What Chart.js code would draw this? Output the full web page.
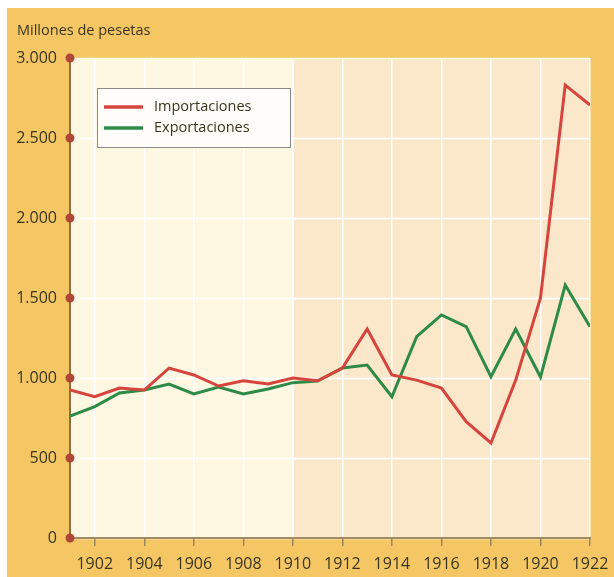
<!DOCTYPE html>
<html>
<head>
<meta charset="utf-8">
<script src="https://cdn.jsdelivr.net/npm/chart.js@4"></script>
<style>
  html, body { margin: 0; padding: 0; background: #ffffff; }
  canvas { display: block; }
</style>
</head>
<body>
<canvas id="chart" width="614" height="577"></canvas>
<script>
// Comercio exterior de España, 1901-1922 (millones de pesetas)
const years = [1901, 1902, 1903, 1904, 1905, 1906, 1907, 1908, 1909, 1910, 1911,
               1912, 1913, 1914, 1915, 1916, 1917, 1918, 1919, 1920, 1921, 1922];
const importaciones = [925, 883, 937, 925, 1062, 1019, 950, 983, 962, 1000, 983,
                       1062, 1306, 1019, 987, 937, 727, 594, 987, 1500, 2831, 2706];
const exportaciones = [762, 821, 906, 925, 962, 900, 944, 900, 931, 971, 981,
                       1062, 1081, 883, 1258, 1394, 1321, 1008, 1306, 1006, 1581, 1321];
const xTickYears = [1902, 1904, 1906, 1908, 1910, 1912, 1914, 1916, 1918, 1920, 1922];
const yTickValues = [0, 500, 1000, 1500, 2000, 2500, 3000];
const yTickLabels = ['0', '500', '1.000', '1.500', '2.000', '2.500', '3.000'];
const seriesNames = ['Importaciones', 'Exportaciones'];
const axisTitle = 'Millones de pesetas';

const X_MIN = 1901, X_MAX = 1922, Y_MIN = 0, Y_MAX = 3000;

const RED = '#d6443e';
const GREEN = '#2e8a47';
const GOLD = '#f4c764';
const TEXT = '#3a3520';
const FONT = "'Open Sans', sans-serif";

Chart.defaults.font.family = FONT;

// plot rectangle: horizontal extent from the first and last drawn points,
// vertical extent from the y scale
function plotRect(chart) {
  const pts = chart.getDatasetMeta(0).data;
  const y = chart.scales.y;
  return {
    left: pts[0].x,
    right: pts[pts.length - 1].x,
    top: y.getPixelForValue(Y_MAX),
    bottom: y.getPixelForValue(Y_MIN)
  };
}

const backdrop = {
  id: 'backdrop',
  beforeDraw(chart) {
    const { ctx } = chart;
    const r = plotRect(chart);
    ctx.save();
    ctx.fillStyle = '#ffffff';
    ctx.fillRect(0, 0, chart.width, chart.height);
    ctx.fillStyle = GOLD;
    ctx.fillRect(7, 8, chart.width - 7, chart.height - 8);
    const split = 294;
    ctx.fillStyle = '#fef7e1';
    ctx.fillRect(r.left, r.top, split - r.left, r.bottom - r.top);
    ctx.fillStyle = '#fbe8cb';
    ctx.fillRect(split, r.top, r.right - split, r.bottom - r.top);
    // horizontal white grid lines
    ctx.strokeStyle = '#ffffff';
    ctx.lineWidth = 1.5;
    yTickValues.forEach(v => {
      const py = Math.round(chart.scales.y.getPixelForValue(v)) + 0.5;
      ctx.beginPath();
      ctx.moveTo(r.left, py);
      ctx.lineTo(r.right, py);
      ctx.stroke();
    });
    ctx.restore();
  }
};

const decorations = {
  id: 'decorations',
  afterDraw(chart) {
    const { ctx, scales } = chart;
    const y = scales.y;
    const r = plotRect(chart);
    ctx.save();
    // gold margin to the right of the plot
    ctx.fillStyle = GOLD;
    ctx.fillRect(r.right + 1.5, 8, chart.width - r.right, r.bottom - 8 + 1);

    // x axis line
    ctx.strokeStyle = '#a08b63';
    ctx.lineWidth = 2;
    ctx.beginPath();
    ctx.moveTo(r.left, r.bottom);
    ctx.lineTo(r.right + 1, r.bottom);
    ctx.stroke();

    // axis title
    ctx.fillStyle = TEXT;
    ctx.font = `14.5px ${FONT}`;
    ctx.textBaseline = 'middle';
    ctx.textAlign = 'left';
    ctx.fillText(axisTitle, 17, 31);

    // dots on the y axis
    ctx.fillStyle = '#b04838';
    yTickValues.forEach(v => {
      ctx.beginPath();
      ctx.arc(r.left, y.getPixelForValue(v), 4.5, 0, Math.PI * 2);
      ctx.fill();
    });

    // legend box
    const bx = 97.5, by = 88.5, bw = 193, bh = 59;
    ctx.fillStyle = '#fffdf9';
    ctx.fillRect(bx, by, bw, bh);
    ctx.strokeStyle = '#8a8a8a';
    ctx.lineWidth = 1;
    ctx.strokeRect(bx, by, bw, bh);
    ctx.font = `14.5px ${FONT}`;
    chart.data.datasets.forEach((ds, i) => {
      const ly = 107 + i * 21;
      ctx.strokeStyle = ds.borderColor;
      ctx.lineWidth = 3.5;
      ctx.beginPath();
      ctx.moveTo(104, ly);
      ctx.lineTo(143, ly);
      ctx.stroke();
      ctx.fillStyle = TEXT;
      ctx.fillText(ds.label, 154, ly);
    });
    ctx.restore();
  }
};

const toPoints = vals => years.map((yr, i) => ({ x: yr, y: vals[i] }));

new Chart(document.getElementById('chart'), {
  type: 'line',
  data: {
    datasets: [
      { label: seriesNames[0], data: toPoints(importaciones), borderColor: RED,
        borderWidth: 3, pointRadius: 0, tension: 0, fill: false },
      { label: seriesNames[1], data: toPoints(exportaciones), borderColor: GREEN,
        borderWidth: 3, pointRadius: 0, tension: 0, fill: false }
    ]
  },
  options: {
    responsive: false,
    animation: false,
    devicePixelRatio: 1,
    layout: { padding: { left: 0, top: 58, right: 24, bottom: 0 } },
    plugins: { legend: { display: false }, tooltip: { enabled: false } },
    scales: {
      x: {
        type: 'linear',
        min: X_MIN,
        max: X_MAX,
        afterBuildTicks: s => { s.ticks = xTickYears.map(v => ({ value: v })); },
        afterFit: s => { s.height = 39; s.paddingLeft = 0; s.paddingRight = 0; },
        grid: { color: '#ffffff', lineWidth: 1.5, tickColor: '#9c8660', tickLength: 8 },
        border: { display: false },
        ticks: { color: TEXT, font: { size: 16 }, padding: 9, maxRotation: 0,
                 callback: v => String(v) }
      },
      y: {
        min: Y_MIN,
        max: Y_MAX,
        afterBuildTicks: s => { s.ticks = yTickValues.map(v => ({ value: v })); },
        afterFit: s => { s.width = 70; },
        grid: { display: false },
        border: { color: '#8c6d45', width: 2 },
        ticks: { color: TEXT, font: { size: 16 }, padding: 5,
                 callback: v => yTickLabels[yTickValues.indexOf(v)] }
      }
    }
  },
  plugins: [backdrop, decorations]
});
</script>
</body>
</html>
